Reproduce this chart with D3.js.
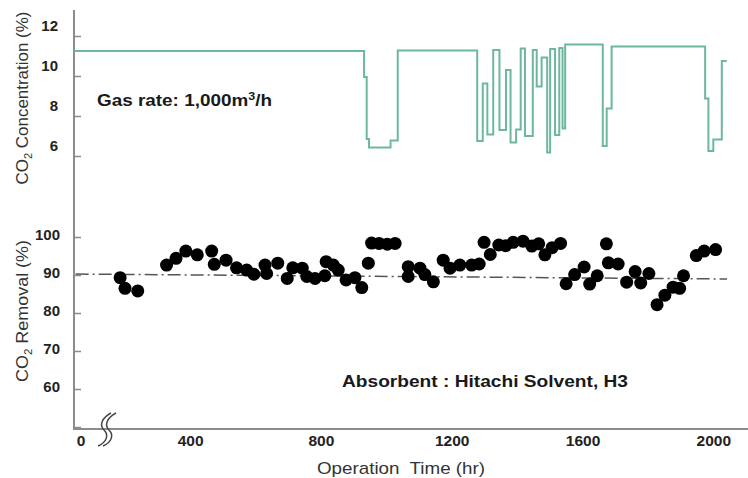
<!DOCTYPE html>
<html>
<head>
<meta charset="utf-8">
<script src="https://cdn.jsdelivr.net/npm/d3@7"></script>
<style>
  body { margin: 0; background: #fff; }
  svg { display: block; font-family: Arial, "Liberation Sans", sans-serif; }
</style>
</head>
<body>
<div class="container"></div>
<script>
// CO2 concentration (step line, top panel)
const concTime = [45, 932, 940, 947, 1013, 1035, 1278, 1295, 1309, 1327, 1346, 1366, 1380, 1397, 1411, 1424, 1448, 1460, 1475, 1492, 1501, 1516, 1529, 1539, 1547, 1662, 1674, 1689, 1975, 1985, 2000, 2026, 2041];
const concValue = [11.25, 9.95, 6.85, 6.42, 6.78, 11.28, 6.75, 9.63, 7.08, 11.3, 7.3, 10.3, 6.67, 7.33, 11.38, 7.0, 11.3, 9.47, 10.93, 6.18, 11.35, 7.05, 11.4, 7.38, 11.58, 6.5, 8.38, 11.47, 8.88, 6.25, 6.83, 10.75, 10.75];

// CO2 removal (dots, bottom panel)
const remTime = [186, 201, 240, 328, 357, 387, 422, 466, 474, 510, 542, 573, 595, 629, 634, 668, 697, 714, 743, 757, 782, 812, 816, 838, 853, 877, 904, 925, 945, 955, 978, 1003, 1027, 1067, 1067,
  1103, 1118, 1144, 1174, 1195, 1225, 1261, 1284, 1299, 1318, 1344, 1365, 1388, 1418, 1445, 1466, 1485, 1507, 1533,
  1550, 1576, 1605, 1622, 1645, 1673, 1679, 1709, 1735, 1761, 1778, 1803, 1828, 1852, 1877, 1897, 1909, 1948, 1972, 2007];
const remValue = [89.3, 86.5, 85.8, 92.6, 94.4, 96.3, 95.3, 96.3, 92.8, 93.9, 91.9, 91.3, 90.2, 92.6, 90.4, 93.1, 89.1, 91.9, 91.8, 89.6, 89.1, 89.8, 93.5, 92.6, 91.3, 88.7, 89.3, 86.7, 93.1, 98.4, 98.3, 98.1, 98.3, 92.2, 89.6,
  91.8, 90.1, 88.2, 93.9, 91.8, 92.6, 92.6, 92.9, 98.6, 95.4, 97.9, 97.7, 98.6, 98.9, 97.6, 98.2, 95.3, 97.2, 98.3,
  87.7, 90.1, 92.1, 87.6, 89.8, 98.2, 93.2, 92.9, 88.1, 90.9, 87.9, 90.4, 82.2, 84.7, 86.8, 86.5, 89.8, 95.1, 96.3, 96.7];

// 90% reference line (dash-dot)
const refTime = [50, 2042];
const refValue = [90.25, 88.95];

const timeTicks = [400, 800, 1200, 1600, 2000];
const concTicks = [6, 8, 10, 12];
const remTicks = [50, 60, 70, 80, 90, 100];

const W = 748, H = 478;
const axisX = 74, axisBottom = 429, axisTop = 10;

const svg = d3.select(".container").append("svg")
  .attr("width", W).attr("height", H);

const x = d3.scaleLinear().domain([0, 2000]).range([59.3, 713.3]);
const yConc = d3.scaleLinear().domain([6, 12]).range([156, 36]);
const yRem = d3.scaleLinear().domain([50, 100]).range([427, 237]);

const axisColor = "#8c8c8c";

// axis lines
svg.append("line")
  .attr("x1", axisX).attr("x2", axisX)
  .attr("y1", axisTop).attr("y2", axisBottom)
  .attr("stroke", axisColor).attr("stroke-width", 2);
svg.append("line")
  .attr("x1", axisX - 1).attr("x2", W)
  .attr("y1", axisBottom).attr("y2", axisBottom)
  .attr("stroke", axisColor).attr("stroke-width", 2);

// y axes: ticks point inward, labels to the left
function styleAxis(g, dy) {
  g.select(".domain").remove();
  g.selectAll(".tick line").attr("stroke", axisColor).attr("stroke-width", 1.5);
  g.selectAll(".tick text")
    .attr("fill", "#222")
    .style("font-size", "15px")
    .style("font-weight", "bold")
    .attr("dy", dy);
}

svg.append("g")
  .attr("transform", `translate(${axisX},0)`)
  .call(d3.axisLeft(yConc).tickValues(concTicks).tickSize(-7).tickPadding(16).tickFormat(d3.format("d")))
  .call(g => styleAxis(g, "-0.4em"));

svg.append("g")
  .attr("transform", `translate(${axisX},0)`)
  .call(d3.axisLeft(yRem).tickValues(remTicks).tickSize(-7).tickPadding(14)
    .tickFormat(d => d === 50 ? "" : d))
  .call(g => styleAxis(g, "0.15em"));

// x axis labels (no tick marks)
const xAxis = svg.append("g")
  .attr("transform", `translate(0,${axisBottom})`)
  .call(d3.axisBottom(x).tickValues(timeTicks).tickSize(0).tickPadding(6).tickFormat(d3.format("d")));
xAxis.select(".domain").remove();
xAxis.selectAll(".tick text")
  .attr("fill", "#222")
  .style("font-size", "15.5px")
  .style("font-weight", "bold");

// "0" at the broken origin
svg.append("text")
  .attr("x", 81).attr("y", 446)
  .attr("text-anchor", "middle")
  .attr("fill", "#222")
  .style("font-size", "15.5px").style("font-weight", "bold")
  .text("0");

// axis break mark
const brk = svg.append("g").attr("fill", "none").attr("stroke", "#444").attr("stroke-width", 1.5);
[0, 5].forEach(off => {
  brk.append("path")
    .attr("d", `M ${111 + off} 413 C ${102 + off} 418, ${99 + off} 425, ${104 + off} 430 C ${109 + off} 435, ${107 + off} 442, ${98 + off} 446`);
});

// reference line at 90%
svg.append("line")
  .attr("x1", x(refTime[0])).attr("x2", x(refTime[1]))
  .attr("y1", yRem(refValue[0])).attr("y2", yRem(refValue[1]))
  .attr("stroke", "#555").attr("stroke-width", 1.5)
  .attr("stroke-dasharray", "13,4,2,4");

// concentration step line
const concData = concTime.map((t, i) => ({ t, v: concValue[i] }));
svg.append("path")
  .datum(concData)
  .attr("fill", "none")
  .attr("stroke", "#6db89d")
  .attr("stroke-width", 2)
  .attr("d", d3.line().x(d => x(d.t)).y(d => yConc(d.v)).curve(d3.curveStepAfter));

// removal dots
const remData = remTime.map((t, i) => ({ t, v: remValue[i] }));
svg.append("g")
  .selectAll("circle")
  .data(remData)
  .join("circle")
  .attr("cx", d => x(d.t))
  .attr("cy", d => yRem(d.v))
  .attr("r", 6.5)
  .attr("fill", "#000");

// annotations
const gas = svg.append("text")
  .attr("x", 97).attr("y", 106)
  .attr("fill", "#1a1a1a")
  .attr("textLength", 175).attr("lengthAdjust", "spacingAndGlyphs")
  .style("font-size", "16.5px").style("font-weight", "bold");
gas.append("tspan").text("Gas rate: 1,000m");
gas.append("tspan").attr("dy", -6).style("font-size", "11px").text("3");
gas.append("tspan").attr("dy", 6).text("/h");

svg.append("text")
  .attr("x", 342).attr("y", 387)
  .attr("fill", "#1a1a1a")
  .attr("textLength", 286).attr("lengthAdjust", "spacingAndGlyphs")
  .style("font-size", "16.5px").style("font-weight", "bold")
  .text("Absorbent : Hitachi Solvent, H3");

// axis titles
svg.append("text")
  .attr("x", 317).attr("y", 474)
  .attr("fill", "#333")
  .attr("textLength", 168).attr("lengthAdjust", "spacingAndGlyphs")
  .style("font-size", "17px")
  .style("white-space", "pre")
  .text("Operation  Time (hr)");

function yTitle(cx, cy, len, rest) {
  const t = svg.append("text")
    .attr("transform", `translate(${cx},${cy}) rotate(-90)`)
    .attr("text-anchor", "middle")
    .attr("fill", "#333")
    .attr("textLength", len).attr("lengthAdjust", "spacingAndGlyphs")
    .style("font-size", "17px");
  t.append("tspan").text("CO");
  t.append("tspan").attr("dy", 4).style("font-size", "11px").text("2");
  t.append("tspan").attr("dy", -4).text(rest);
}
yTitle(28, 98, 173, " Concentration (%)");
yTitle(28, 311, 142, " Removal (%)");
</script>
</body>
</html>
